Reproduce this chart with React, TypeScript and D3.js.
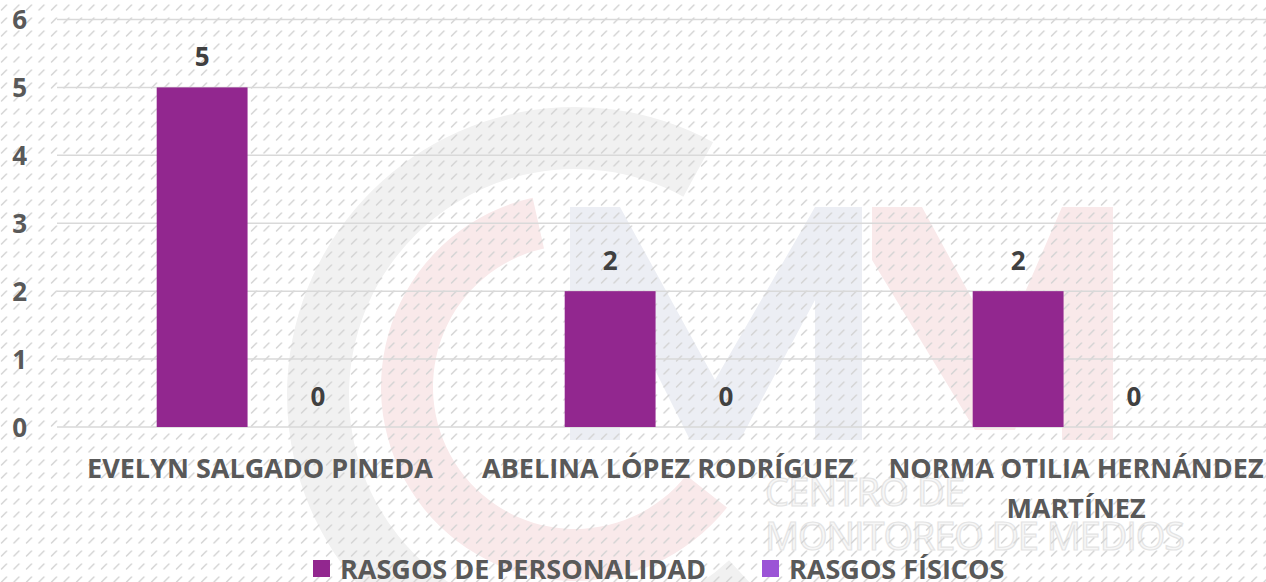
import { useEffect, useRef } from 'react';
import * as d3 from 'd3';

const categories = [
  ['EVELYN SALGADO PINEDA'],
  ['ABELINA LÓPEZ RODRÍGUEZ'],
  ['NORMA OTILIA HERNÁNDEZ', 'MARTÍNEZ'],
];
const seriesNames = ['RASGOS DE PERSONALIDAD', 'RASGOS FÍSICOS'];
const personalidad = [5, 2, 2];
const fisicos = [0, 0, 0];
const yTicks = [0, 1, 2, 3, 4, 5, 6];
const seriesColors = ['#92278F', '#9B54D6'];

const W = 1266;
const H = 582;

const App = () => {
  const svgRef = useRef<SVGSVGElement>(null);

  useEffect(() => {
    if (!svgRef.current) return;
    const svg = d3.select(svgRef.current);
    svg.selectAll('*').remove();

    const font = '"Open Sans", sans-serif';
    const values = [personalidad, fisicos];
    const keys = categories.map(c => c.join(' '));

    const x = d3.scaleBand<string>().domain(keys).range([56, 1280]);
    const xs = d3.scaleBand<number>()
      .domain([0, 1])
      .range([0, x.bandwidth()])
      .paddingInner(0.215)
      .paddingOuter(0.87);
    const y = d3.scaleLinear().domain([0, 6]).range([427, 19.5]);

    // background + hatch pattern
    const defs = svg.append('defs');
    const pat = defs.append('pattern')
      .attr('id', 'hatch')
      .attr('patternUnits', 'userSpaceOnUse')
      .attr('width', 12.5)
      .attr('height', 13);
    pat.append('line')
      .attr('x1', 1.5).attr('y1', 10).attr('x2', 6.5).attr('y2', 5)
      .attr('stroke', '#d4d4d4').attr('stroke-width', 1.5)
      .attr('stroke-linecap', 'round');

    svg.append('rect').attr('width', W).attr('height', H).attr('fill', '#ffffff');

    // watermark logo
    const wm = svg.append('g');
    const ring = d3.arc<any>();
    wm.append('path')
      .attr('transform', 'translate(575,395)')
      .attr('d', ring({ innerRadius: 226, outerRadius: 288, startAngle: -Math.PI - 0.75, endAngle: 0.5 }))
      .attr('fill', '#f1f1f1');
    wm.append('path')
      .attr('transform', 'translate(575,387)')
      .attr('d', ring({ innerRadius: 142, outerRadius: 194, startAngle: -Math.PI - 0.9, endAngle: -0.22 }))
      .attr('fill', '#f9e9ea');
    wm.append('path')
      .attr('d', 'M570,207 L620,207 L715,380 L815,207 L862,207 L862,440 L815,440 L815,300 L740,440 L690,440 L620,300 L620,440 L570,440 Z')
      .attr('fill', '#eceef4');
    wm.append('path')
      .attr('d', 'M872,207 L922,207 L1000,350 L1062,207 L1113,207 L1113,440 L1062,440 L1062,300 L1015,430 L975,430 L872,260 Z')
      .attr('fill', '#f9e9ea');
    wm.selectAll('text.wm')
      .data(['CENTRO DE', 'MONITOREO DE MEDIOS'])
      .enter()
      .append('text')
      .attr('x', 765)
      .attr('y', (_, i) => 506 + i * 44)
      .attr('font-family', font)
      .attr('font-size', 38)
      .attr('fill', '#f7f7f7')
      .attr('stroke', '#e4e4e4')
      .attr('stroke-width', 1.2)
      .attr('textLength', (_, i) => (i === 0 ? 200 : 420))
      .text(d => d);

    svg.append('rect').attr('width', W).attr('height', H).attr('fill', 'url(#hatch)');

    // gridlines
    svg.append('g')
      .selectAll('line')
      .data(yTicks)
      .enter()
      .append('line')
      .attr('x1', 57)
      .attr('x2', W)
      .attr('y1', d => y(d))
      .attr('y2', d => y(d))
      .attr('stroke', '#d9d9d9')
      .attr('stroke-width', 1.5);

    // y labels
    svg.append('g')
      .selectAll('text')
      .data(yTicks)
      .enter()
      .append('text')
      .attr('x', 27)
      .attr('y', d => y(d) + 9.5)
      .attr('text-anchor', 'end')
      .attr('font-family', font)
      .attr('font-weight', 700)
      .attr('font-size', 26)
      .attr('fill', '#595959')
      .text(d => d);

    // bars + value labels
    values.forEach((vals, si) => {
      const g = svg.append('g');
      g.selectAll('rect')
        .data(vals)
        .enter()
        .append('rect')
        .attr('x', (_, i) => (x(keys[i]) ?? 0) + (xs(si) ?? 0))
        .attr('width', xs.bandwidth())
        .attr('y', d => y(d))
        .attr('height', d => y(0) - y(d))
        .attr('fill', seriesColors[si]);
      g.selectAll('text')
        .data(vals)
        .enter()
        .append('text')
        .attr('x', (_, i) => (x(keys[i]) ?? 0) + (xs(si) ?? 0) + xs.bandwidth() / 2)
        .attr('y', d => y(d) - 21)
        .attr('text-anchor', 'middle')
        .attr('font-family', font)
        .attr('font-weight', 700)
        .attr('font-size', 26)
        .attr('fill', '#404040')
        .text(d => d);
    });

    // category labels
    const cat = svg.append('g')
      .selectAll('text')
      .data(categories)
      .enter()
      .append('text')
      .attr('text-anchor', 'middle')
      .attr('font-family', font)
      .attr('font-weight', 700)
      .attr('font-size', 27)
      .attr('fill', '#595959');
    cat.selectAll('tspan')
      .data((d, i) => d.map(line => ({ line, i })))
      .enter()
      .append('tspan')
      .attr('x', d => (x(keys[d.i]) ?? 0) + x.bandwidth() / 2)
      .attr('y', (_, j) => 478 + j * 40)
      .text(d => d.line);

    // legend
    const legendX = [313, 762];
    const leg = svg.append('g')
      .selectAll('g')
      .data(seriesNames)
      .enter()
      .append('g')
      .attr('transform', (_, i) => `translate(${legendX[i]},560)`);
    leg.append('rect')
      .attr('width', 17)
      .attr('height', 17)
      .attr('fill', (_, i) => seriesColors[i]);
    leg.append('text')
      .attr('x', 27)
      .attr('y', 19)
      .attr('font-family', font)
      .attr('font-weight', 700)
      .attr('font-size', 27)
      .attr('fill', '#595959')
      .text(d => d);
  }, []);

  return (
    <svg
      ref={svgRef}
      width={W}
      height={H}
      style={{ position: 'absolute', left: 0, top: 0, display: 'block' }}
    />
  );
};

export default App;
